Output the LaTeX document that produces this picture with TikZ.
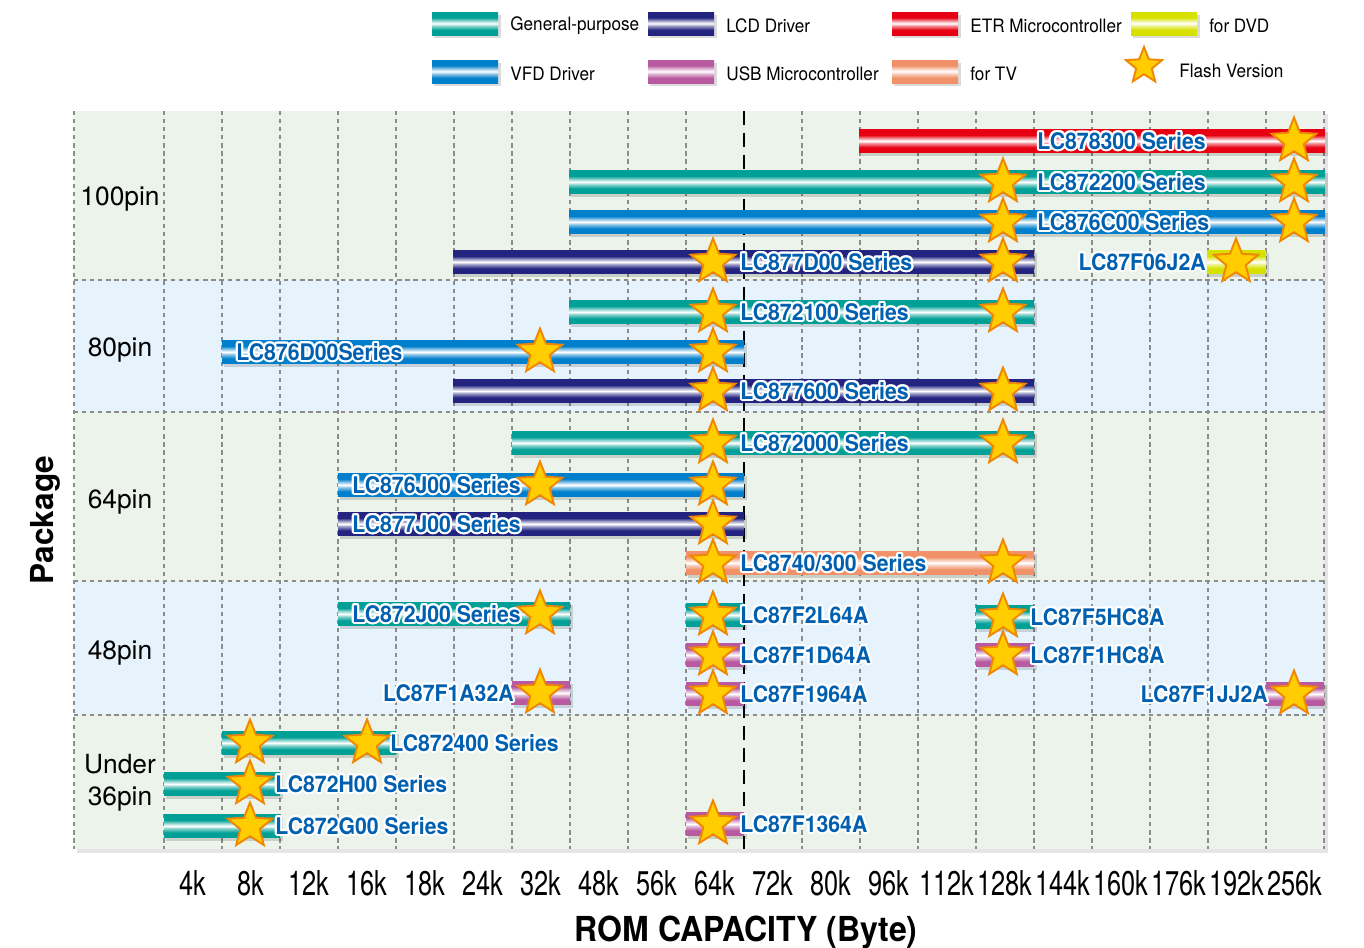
\documentclass[tikz,border=0pt]{standalone}
\usepackage{fontspec}
\setmainfont{TeX Gyre Heros}
\newfontfamily\tickfont[FakeStretch=0.74]{TeX Gyre Heros}
\newfontfamily\labfont[FakeStretch=0.93]{TeX Gyre Heros}
\newfontfamily\titlefont[FakeStretch=0.93]{TeX Gyre Heros}
\newfontfamily\keyfont[FakeStretch=0.93]{TeX Gyre Heros}
\usepackage{contour}
\contourlength{1.2pt}
\usetikzlibrary{shapes.geometric}

\definecolor{gpcol}{RGB}{0,160,150}
\definecolor{lcdcol}{RGB}{35,36,128}
\definecolor{etrcol}{RGB}{230,0,18}
\definecolor{dvdcol}{RGB}{215,225,0}
\definecolor{vfdcol}{RGB}{0,128,204}
\definecolor{usbcol}{RGB}{185,90,160}
\definecolor{tvcol}{RGB}{240,145,105}
\definecolor{starfill}{RGB}{255,205,0}
\definecolor{starline}{RGB}{240,135,0}
\definecolor{labelblue}{RGB}{0,95,175}
\definecolor{greenbg}{RGB}{235,243,234}
\definecolor{bluebg}{RGB}{231,243,252}
\definecolor{gridgray}{RGB}{140,140,140}

\newcommand\barshade[2]{\pgfdeclareverticalshading{bar#1}{100bp}{color(0bp)=(#2); color(25bp)=(#2); color(36bp)=(#2); color(45bp)=(#2!45!white); color(50bp)=(white); color(55bp)=(#2!35!white); color(63bp)=(#2); color(75bp)=(#2); color(100bp)=(#2)}}
\barshade{gp}{gpcol}
\barshade{lcd}{lcdcol}
\barshade{etr}{etrcol}
\barshade{dvd}{dvdcol}
\barshade{vfd}{vfdcol}
\barshade{usb}{usbcol}
\barshade{tv}{tvcol}

\tikzset{
  gridline/.style={gridgray, line width=0.8pt, dash pattern=on 2.4pt off 2.2pt},
  capline/.style={black, line width=1.1pt, dash pattern=on 8pt off 4.5pt},
  flash/.style={star, star points=5, star point ratio=2.3, minimum size=0.94cm, inner sep=0pt, fill=starfill, draw=starline, line width=1.1pt},
  barlabel/.style={text=labelblue, inner sep=0pt, font=\labfont\bfseries\fontsize{13}{13}\selectfont},
  rowlabel/.style={font=\fontsize{15}{18}\selectfont, align=center},
  ticklabel/.style={font=\tickfont\fontsize{19.5}{20}\selectfont},
  legendtext/.style={font=\keyfont\fontsize{10.5}{12}\selectfont, anchor=west, inner sep=0pt},
  barshadow/.style={black, opacity=0.14},
}

\begin{document}
\begin{tikzpicture}[x=0.02cm, y=-0.02cm]
\useasboundingbox (0,0) rectangle (1364,947);
\fill[white] (0,0) rectangle (1364,947);

\fill[black!10] (77,114) rectangle (1328,853);
\fill[greenbg] (74,111) rectangle (1324,280);
\fill[bluebg] (74,280) rectangle (1324,412);
\fill[greenbg] (74,412) rectangle (1324,581);
\fill[bluebg] (74,581) rectangle (1324,715);
\fill[greenbg] (74,715) rectangle (1324,849);

\foreach \gx in {74,164,222,...,686,802,860,...,1324}{
  \draw[gridline] (\gx,111) -- (\gx,849);
}
\foreach \gy in {280,412,581,715}{
  \draw[gridline] (74,\gy) -- (1324,\gy);
}
\draw[capline] (744,111) -- (744,849);

\foreach \xa/\xb/\yc/\kind in {859/1325/141/etr, 569/1325/182/gp, 569/1325/222/vfd, 453/1034/262/lcd, 1207/1266/262/dvd,
  569/1034/312/gp, 222/744/352/vfd, 453/1034/391/lcd,
  512/1034/443/gp, 338/744/485/vfd, 338/744/524/lcd, 686/1034/563/tv,
  338/570/614/gp, 686/744/615/gp, 686/744/655/usb, 686/744/694/usb, 976/1034/617/gp, 976/1034/655/usb, 512/570/693/usb, 1266/1324/694/usb,
  222/396/743/gp, 164/280/784/gp, 164/280/826/gp, 686/744/824/usb}{
  \fill[barshadow] (\xa+2,\yc-9) rectangle (\xb+3,\yc+14.5);
  \shade[shading=bar\kind] (\xa,\yc-11.5) rectangle (\xb,\yc+11.5);
}

\foreach \lx/\ly/\txt [count=\n] in {1037/142/LC878300 Series, 1037/183/LC872200 Series, 1037/223/LC876C00 Series, 740/263/LC877D00 Series,
  740/313/LC872100 Series, 236/353/LC876D00Series, 740/392/LC877600 Series,
  740/444/LC872000 Series, 352/486/LC876J00 Series, 352/525/LC877J00 Series,
  352/615/LC872J00 Series, 740/616/LC87F2L64A, 740/656/LC87F1D64A, 740/695/LC87F1964A, 1030/618/LC87F5HC8A, 1030/656/LC87F1HC8A,
  390/744/LC872400 Series, 275/785/LC872H00 Series, 275/827/LC872G00 Series, 740/825/LC87F1364A}{
  \node[barlabel, anchor=west] (lab\n) at (\lx,\ly) {\contour{white}{\txt}};
}
\node[barlabel, anchor=west] (labtv) at (740,564) {\contour{white}{LC8740/300 Series}};
\node[barlabel, anchor=east] (labdvd) at (1206,263) {\contour{white}{LC87F06J2A}};
\node[barlabel, anchor=east] (laba32) at (514,694) {\contour{white}{LC87F1A32A}};
\node[barlabel, anchor=east] (labjj2) at (1268,695) {\contour{white}{LC87F1JJ2A}};

\foreach \sx/\sy [count=\n] in {1294/141, 1003/182, 1294/182, 1003/222, 1294/222, 713/262, 1003/262, 1236/262,
  713/312, 1003/312, 540/352, 713/352, 713/391, 1003/391,
  713/443, 1003/443, 540/485, 713/485, 713/524, 713/563, 1003/563,
  540/614, 713/615, 713/655, 713/694, 1003/617, 1003/655, 540/693, 1294/694,
  250/743, 367/743, 250/784, 250/826, 713/824}{
  \node[flash] (star\n) at (\sx,\sy) {};
}

\node[rowlabel] (pin100) at (120,199) {100pin};
\node[rowlabel] (pin80) at (120,350) {80pin};
\node[rowlabel] (pin64) at (120,502) {64pin};
\node[rowlabel] (pin48) at (120,653) {48pin};
\node[rowlabel] (pin36) at (120,783) {Under\\36pin};
\node[rotate=90, font=\bfseries\fontsize{18}{18}\selectfont] (package) at (45,520) {Package};

\foreach \t [count=\i from 0] in {4k,8k,12k,16k,18k,24k,32k,48k,56k,64k,72k,80k,96k,112k,128k,144k,160k,176k,192k,256k}{
  \node[ticklabel] (tick\i) at (193+58*\i,883) {\t};
}
\node[font=\titlefont\bfseries\fontsize{19.6}{20}\selectfont] (romcap) at (746,932) {ROM CAPACITY (Byte)};

\foreach \kx/\ky/\kind/\txt [count=\n] in {432/23.5/gp/General-purpose, 648/23.5/lcd/LCD Driver, 892/23.5/etr/ETR Microcontroller, 1131/23.5/dvd/for DVD,
  432/71.5/vfd/VFD Driver, 648/71.5/usb/USB Microcontroller, 892/71.5/tv/for TV}{
  \fill[barshadow] (\kx+2,\ky-9) rectangle (\kx+69,\ky+14.5);
  \shade[shading=bar\kind] (\kx,\ky-11.5) rectangle (\kx+66,\ky+11.5);
  \node[legendtext] (key\n) at (\kx+78,\ky+2) {\txt};
}
\node[flash, minimum size=0.76cm] (keystar) at (1144,66) {};
\node[legendtext] (keyflash) at (1179,71) {Flash Version};
\end{tikzpicture}
\end{document}
